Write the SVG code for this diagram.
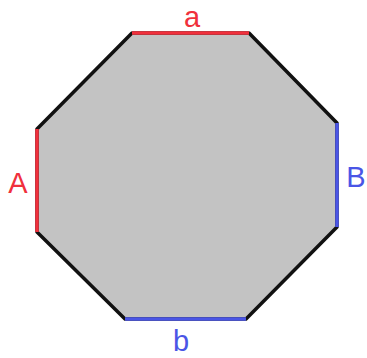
<svg xmlns="http://www.w3.org/2000/svg" width="367" height="358" viewBox="0 0 367 358">
<style>
.lbl{font-family:"Liberation Sans",Arial,sans-serif;font-size:29px}
.red{fill:#f0303c}
.blue{fill:#4a55e6}
.er{stroke:#f0303c;stroke-width:3.5;fill:none}
.eb{stroke:#4a55e6;stroke-width:3.5;fill:none}
</style>
<g id="octagon">
<polygon points="132,33 249,33 337,123 337,227 246,319 125,319 37,232 37,129" fill="#c3c3c3" stroke="#111" stroke-width="3.5" stroke-linejoin="round"/>
</g>
<g id="edges">
<line class="er" x1="132" y1="33" x2="249" y2="33"/>
<line class="er" x1="37" y1="129" x2="37" y2="232"/>
<line class="eb" x1="337" y1="123" x2="337" y2="227"/>
<line class="eb" x1="125" y1="319" x2="246" y2="319"/>
</g>
<g id="labels">
<text class="lbl red" x="192" y="26.5" text-anchor="middle">a</text>
<text class="lbl red" x="18" y="193" text-anchor="middle">A</text>
<text class="lbl blue" x="356" y="187" text-anchor="middle">B</text>
<text class="lbl blue" x="181" y="351" text-anchor="middle">b</text>
</g>
</svg>
